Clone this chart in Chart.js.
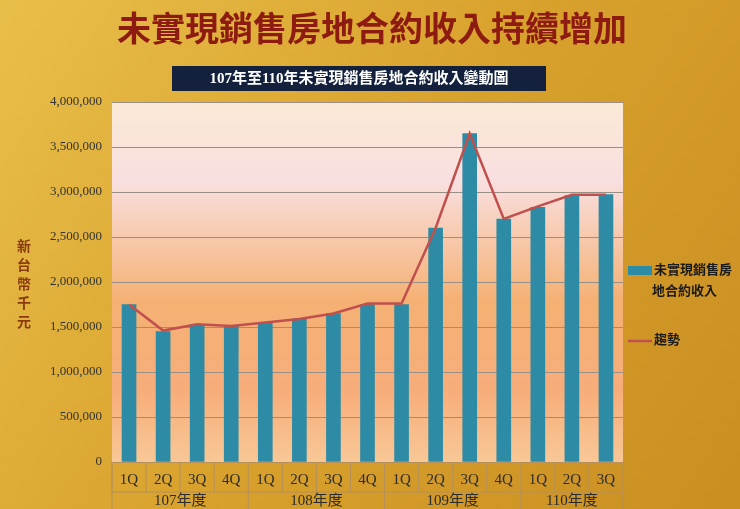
<!DOCTYPE html>
<html>
<head>
<meta charset="utf-8">
<script src="https://cdn.jsdelivr.net/npm/chart.js@4"></script>
<style>
  body { margin: 0; background: #d9a630; }
  canvas { display: block; }
</style>
</head>
<body>
<canvas id="myChart" width="740" height="509"></canvas>
<script>
const quarters = ["1Q", "2Q", "3Q", "4Q", "1Q", "2Q", "3Q", "4Q", "1Q", "2Q", "3Q", "4Q", "1Q", "2Q", "3Q"];
const years = ["107年度", "108年度", "109年度", "110年度"];
const yearSpans = [4, 4, 4, 3];
const revenue = [1750000, 1450000, 1530000, 1510000, 1550000, 1590000, 1650000, 1750000, 1750000, 2600000, 3650000, 2700000, 2830000, 2960000, 2970000];
const trend = [1750000, 1460000, 1530000, 1510000, 1550000, 1590000, 1650000, 1760000, 1760000, 2600000, 3650000, 2700000, 2840000, 2970000, 2970000];

const serif = "'Liberation Serif', 'DejaVu Serif', 'Noto Sans CJK TC', serif";

const decor = {
  id: "decor",
  beforeDraw(chart) {
    const c = chart.ctx, a = chart.chartArea;
    c.save();
    let g = c.createLinearGradient(0, 0, 740, 509);
    g.addColorStop(0, "#e8bf4a");
    g.addColorStop(0.5, "#d8a12c");
    g.addColorStop(1, "#c98e22");
    c.fillStyle = g;
    c.fillRect(0, 0, 740, 509);
    g = c.createLinearGradient(0, a.top, 0, a.bottom);
    g.addColorStop(0, "#fbe9d6");
    g.addColorStop(0.22, "#f9dfe0");
    g.addColorStop(0.55, "#f5b174");
    g.addColorStop(0.8, "#f7ad7a");
    g.addColorStop(1, "#f7c896");
    c.fillStyle = g;
    c.fillRect(a.left, a.top, a.right - a.left, a.bottom - a.top);
    c.restore();
  },
  afterDraw(chart) {
    const c = chart.ctx, a = chart.chartArea, x = chart.scales.x;
    c.save();
    c.fillStyle = "#8e1b12";
    c.font = "bold 34px 'Noto Sans CJK TC'";
    c.textAlign = "center";
    c.textBaseline = "middle";
    c.fillText("未實現銷售房地合約收入持續增加", 372, 28);
    c.fillStyle = "#13213d";
    c.fillRect(172, 66, 374, 25);
    c.fillStyle = "#ffffff";
    c.font = "bold 15px " + serif;
    c.fillText("107年至110年未實現銷售房地合約收入變動圖", 359, 79);
    c.fillStyle = "#8a3a10";
    c.font = "bold 14px " + serif;
    "新台幣千元".split("").forEach((ch, i) => c.fillText(ch, 24, 247 + i * 19));
    const step = x.getPixelForValue(1) - x.getPixelForValue(0);
    c.strokeStyle = "#b5905a";
    c.lineWidth = 1;
    c.beginPath();
    c.moveTo(a.left, a.bottom); c.lineTo(a.left, 509);
    for (let i = 0; i <= quarters.length; i++) {
      const px = a.left + i * step;
      c.moveTo(px, a.bottom); c.lineTo(px, a.bottom + 30);
    }
    let idx = 0;
    c.fillStyle = "#2b2b2b";
    c.font = "15px " + serif;
    years.forEach((y, k) => {
      const x0 = a.left + idx * step;
      idx += yearSpans[k];
      const x1 = a.left + idx * step;
      c.moveTo(x1, a.bottom + 30); c.lineTo(x1, 509);
      c.fillText(y, (x0 + x1) / 2, 501);
    });
    c.moveTo(a.left, a.bottom + 30); c.lineTo(a.right, a.bottom + 30);
    c.stroke();
    c.fillStyle = "#2e8ba5";
    c.fillRect(628, 266, 24, 9);
    c.strokeStyle = "#c0504d";
    c.lineWidth = 2.5;
    c.beginPath(); c.moveTo(628, 341); c.lineTo(652, 341); c.stroke();
    c.fillStyle = "#1a1a1a";
    c.font = "bold 13px " + serif;
    c.textAlign = "left";
    c.fillText("未實現銷售房", 654, 271);
    c.fillText("地合約收入", 652, 292);
    c.fillText("趨勢", 654, 341);
    c.restore();
  }
};

const ctx = document.getElementById("myChart").getContext("2d");
new Chart(ctx, {
  data: {
    labels: quarters,
    datasets: [
      {
        type: "line",
        label: "趨勢",
        data: trend,
        borderColor: "#c0504d",
        borderWidth: 2.5,
        pointRadius: 0,
        tension: 0,
        order: 0
      },
      {
        type: "bar",
        label: "未實現銷售房地合約收入",
        data: revenue,
        backgroundColor: "#2e8ba5",
        barThickness: 14,
        order: 1
      }
    ]
  },
  options: {
    responsive: false,
    animation: false,
    layout: { padding: { top: 102, right: 117, left: 0, bottom: 0 } },
    plugins: { legend: { display: false }, tooltip: { enabled: false } },
    scales: {
      x: {
        grid: { display: false },
        border: { color: "#b5905a" },
        ticks: { color: "#2b2b2b", font: { family: serif, size: 15 }, padding: 1 },
        afterFit(s) { s.height = 47; }
      },
      y: {
        min: 0,
        max: 4000000,
        grid: { color: "#9a8f86", drawTicks: false },
        border: { display: false },
        ticks: {
          stepSize: 500000,
          padding: 10,
          color: "#333",
          font: { family: serif, size: 13 },
          callback: (v) => v.toLocaleString("en-US")
        },
        afterFit(s) { s.width = 112; }
      }
    }
  },
  plugins: [decor]
});
</script>
</body>
</html>
